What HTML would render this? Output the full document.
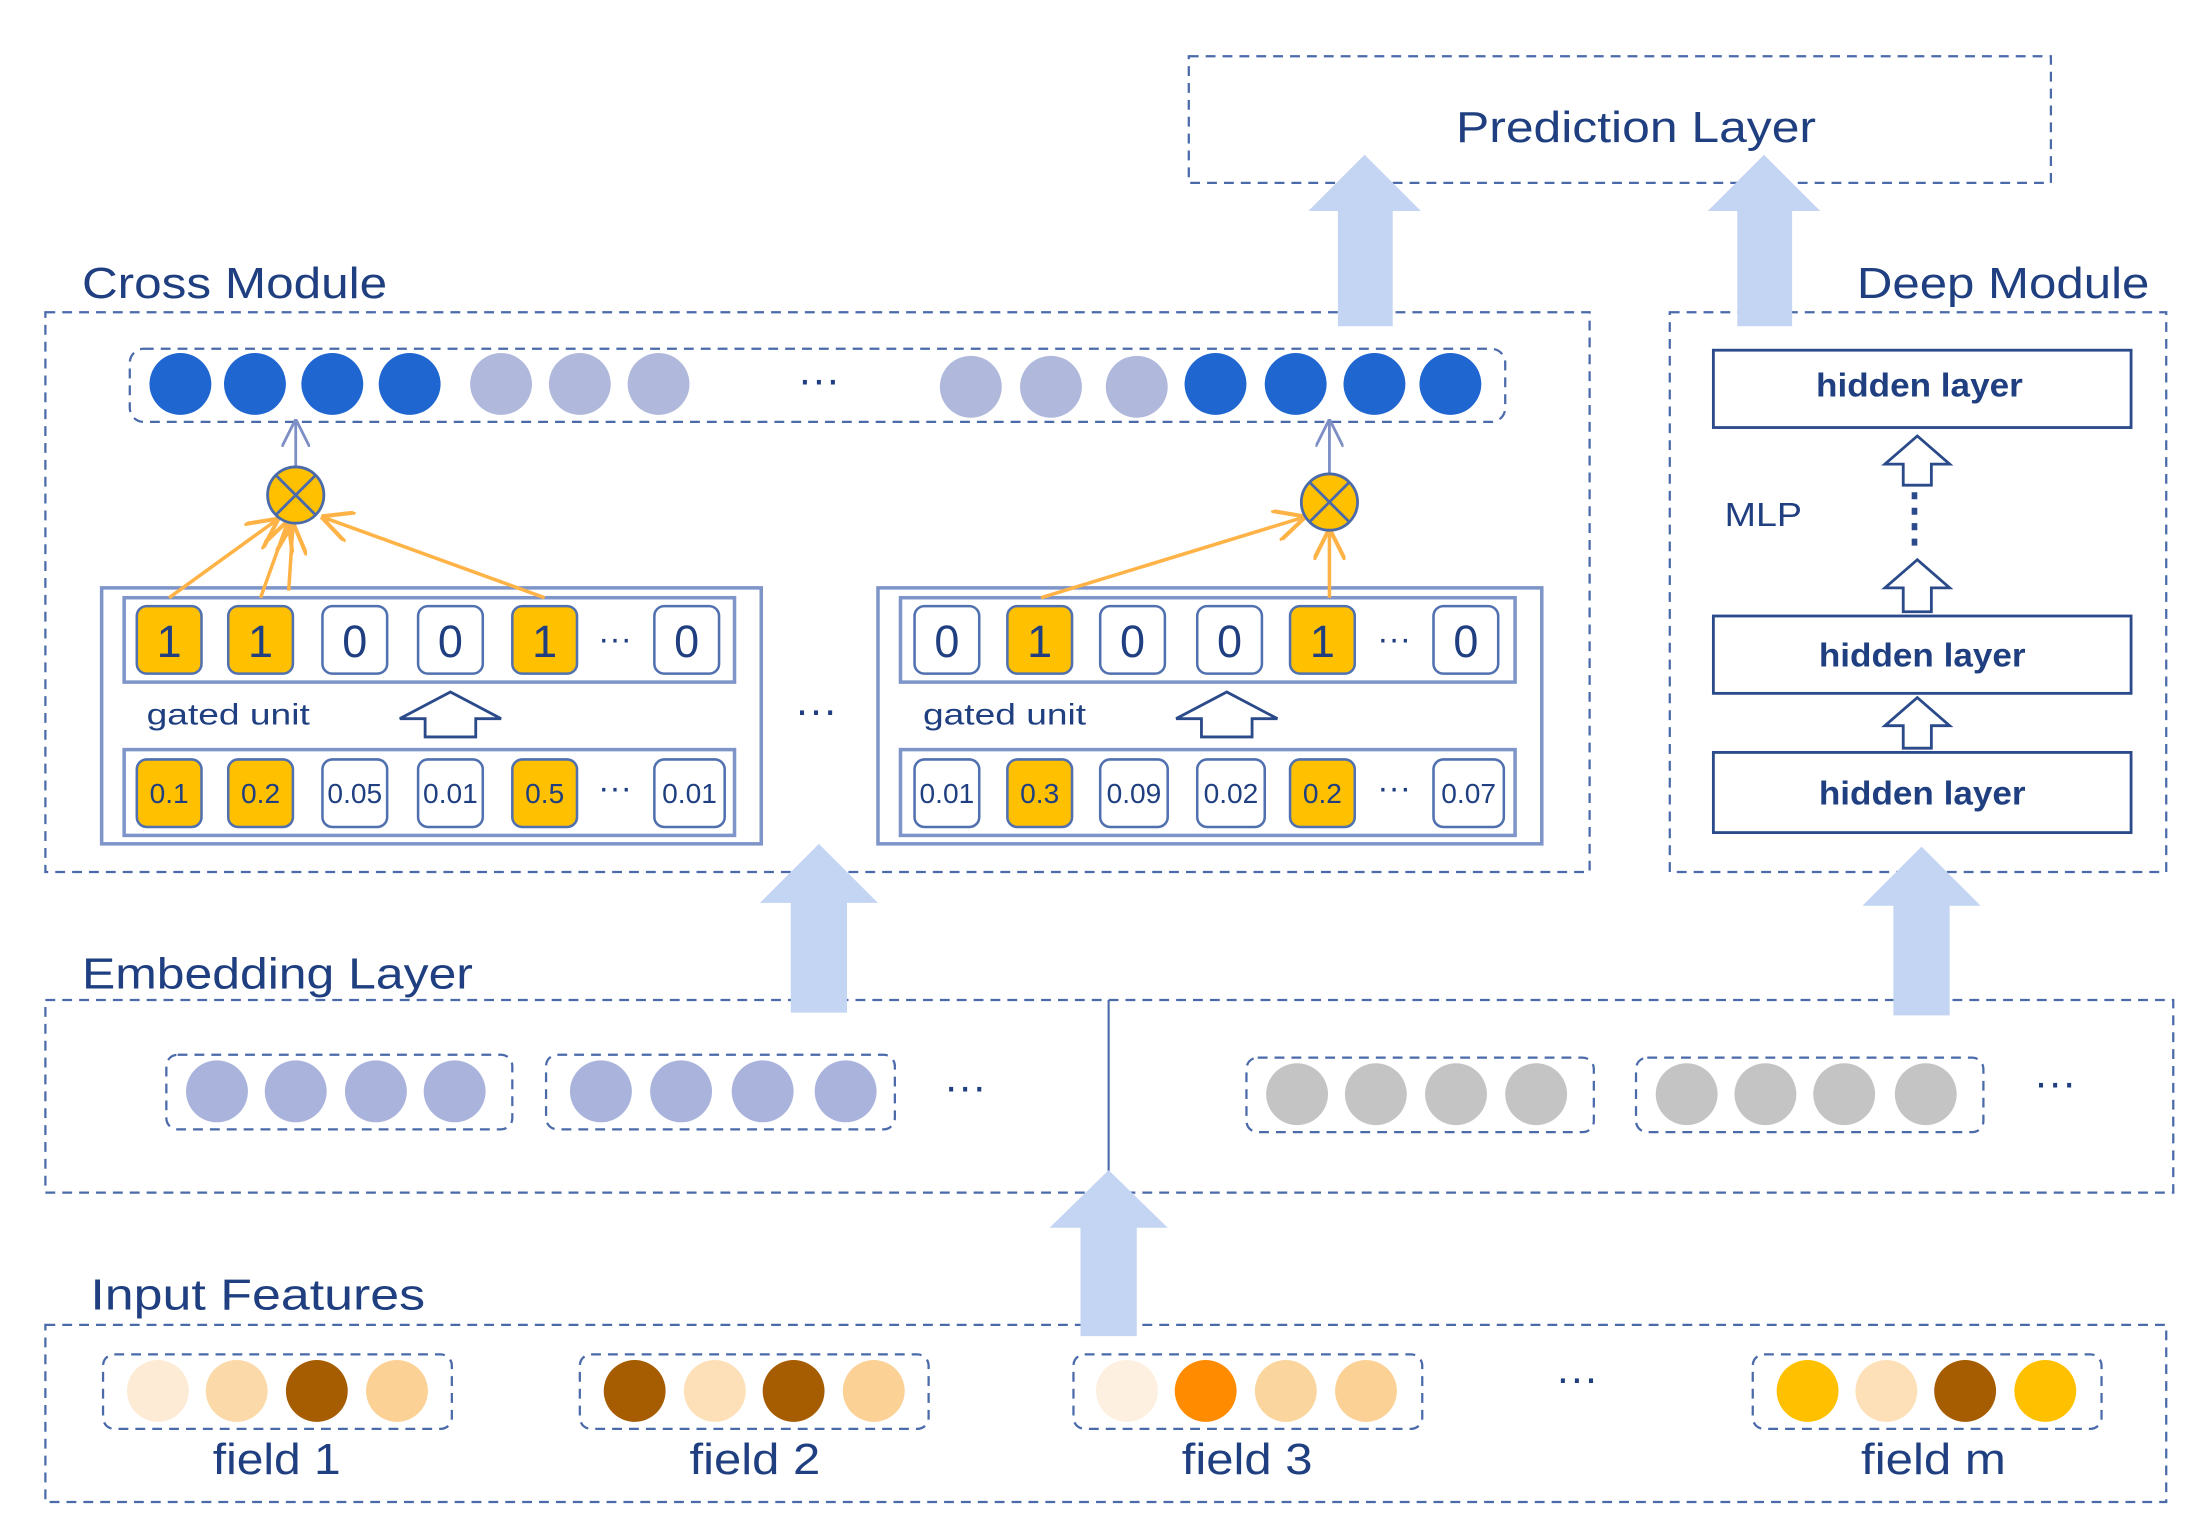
<!DOCTYPE html>
<html><head><meta charset="utf-8"><style>html,body{margin:0;padding:0;background:#fff}svg{display:block}</style></head><body>
<svg width="2206" height="1540" viewBox="0 0 1568 1095" xmlns="http://www.w3.org/2000/svg" font-family="Liberation Sans, sans-serif">
<defs>
<marker id="oa" viewBox="0 0 10 10" refX="9" refY="5" markerWidth="9" markerHeight="9" orient="auto"><path d="M0,0 L10,5 L0,10" fill="none" stroke="#ffb347" stroke-width="1.3"/></marker>
<marker id="ba" viewBox="0 0 10 10" refX="9" refY="5" markerWidth="10" markerHeight="10" orient="auto"><path d="M0,0 L10,5 L0,10" fill="none" stroke="#7d8fc4" stroke-width="1"/></marker>
</defs>
<g fill="none" stroke="#4a6aaa" stroke-width="1.6" stroke-dasharray="7,5">
<rect x="845" y="40" width="613" height="90"/>
<rect x="32" y="222" width="1098" height="398"/>
<rect x="1187" y="222" width="353" height="398"/>
<rect x="92" y="248" width="978" height="52" rx="10"/>
<rect x="32" y="711" width="1513" height="137"/>
<rect x="32" y="942" width="1508" height="126"/>
<rect x="118" y="750" width="246" height="53" rx="8"/>
<rect x="388" y="750" width="248" height="53" rx="8"/>
<rect x="886" y="752" width="247" height="53" rx="8"/>
<rect x="1163" y="752" width="247" height="53" rx="8"/>
<rect x="73" y="963" width="248" height="53" rx="8"/>
<rect x="412" y="963" width="248" height="53" rx="8"/>
<rect x="763" y="963" width="248" height="53" rx="8"/>
<rect x="1246" y="963" width="248" height="53" rx="8"/>
</g>
<line x1="788" y1="711" x2="788" y2="848" stroke="#4a6aaa" stroke-width="1.5"/>
<g fill="#1f3f80" font-size="31">
<text x="1035" y="101" textLength="256" lengthAdjust="spacingAndGlyphs">Prediction Layer</text>
<text x="58" y="212" textLength="217" lengthAdjust="spacingAndGlyphs">Cross Module</text>
<text x="1320" y="212" textLength="208" lengthAdjust="spacingAndGlyphs">Deep Module</text>
<text x="58" y="703" textLength="278" lengthAdjust="spacingAndGlyphs">Embedding Layer</text>
<text x="64" y="931" textLength="238" lengthAdjust="spacingAndGlyphs">Input  Features</text>
<text x="151" y="1048" textLength="91" lengthAdjust="spacingAndGlyphs">field 1</text>
<text x="490" y="1048" textLength="93" lengthAdjust="spacingAndGlyphs">field 2</text>
<text x="840" y="1048" textLength="93" lengthAdjust="spacingAndGlyphs">field 3</text>
<text x="1323" y="1048" textLength="103" lengthAdjust="spacingAndGlyphs">field m</text>
</g>
<g fill="#1f3f80" font-size="30" text-anchor="middle">
<text x="582" y="280">···</text><text x="580" y="515">···</text><text x="686" y="783">···</text><text x="1461" y="780">···</text><text x="1121" y="990">···</text>
</g>
<g fill="#1f66d1"><circle cx="128" cy="273" r="22"/><circle cx="181" cy="273" r="22"/><circle cx="236" cy="273" r="22"/><circle cx="291" cy="273" r="22"/><circle cx="864" cy="273" r="22"/><circle cx="921" cy="273" r="22"/><circle cx="977" cy="273" r="22"/><circle cx="1031" cy="273" r="22"/></g>
<g fill="#b0b8dc"><circle cx="356" cy="273" r="22"/><circle cx="412" cy="273" r="22"/><circle cx="468" cy="273" r="22"/><circle cx="690" cy="275" r="22"/><circle cx="747" cy="275" r="22"/><circle cx="808" cy="275" r="22"/></g>
<g fill="#aab3dc"><circle cx="154" cy="776" r="22"/><circle cx="210" cy="776" r="22"/><circle cx="267" cy="776" r="22"/><circle cx="323" cy="776" r="22"/><circle cx="427" cy="776" r="22"/><circle cx="484" cy="776" r="22"/><circle cx="542" cy="776" r="22"/><circle cx="601" cy="776" r="22"/></g>
<g fill="#c4c4c4"><circle cx="922" cy="778" r="22"/><circle cx="978" cy="778" r="22"/><circle cx="1035" cy="778" r="22"/><circle cx="1092" cy="778" r="22"/><circle cx="1199" cy="778" r="22"/><circle cx="1255" cy="778" r="22"/><circle cx="1311" cy="778" r="22"/><circle cx="1369" cy="778" r="22"/></g>
<g>
<circle cx="112" cy="989" r="22" fill="#fdebd6"/><circle cx="168" cy="989" r="22" fill="#fbd9a8"/><circle cx="225" cy="989" r="22" fill="#a65c00"/><circle cx="282" cy="989" r="22" fill="#fcd196"/>
<circle cx="451" cy="989" r="22" fill="#a65c00"/><circle cx="508" cy="989" r="22" fill="#fde0b8"/><circle cx="564" cy="989" r="22" fill="#a65c00"/><circle cx="621" cy="989" r="22" fill="#fcd196"/>
<circle cx="801" cy="989" r="22" fill="#fdf0e0"/><circle cx="857" cy="989" r="22" fill="#ff8c00"/><circle cx="914" cy="989" r="22" fill="#fbd59e"/><circle cx="971" cy="989" r="22" fill="#fcd196"/>
<circle cx="1285" cy="989" r="22" fill="#ffc000"/><circle cx="1341" cy="989" r="22" fill="#fde0b8"/><circle cx="1397" cy="989" r="22" fill="#a65c00"/><circle cx="1454" cy="989" r="22" fill="#ffc000"/>
</g>
<g fill="#c3d5f2">
<path d="M951,232 V150 H930 L970,110 L1010,150 H990 V232 Z"/>
<path d="M1235,232 V150 H1214 L1254,110 L1294,150 H1274 V232 Z"/>
<path d="M562,720 V642 H540 L582,600 L624,642 H602 V720 Z"/>
<path d="M1346,722 V644 H1324 L1366,602 L1408,644 H1386 V722 Z"/>
<path d="M768,950 V873 H746 L788,832 L830,873 H808 V950 Z"/>
</g>
<g fill="none" stroke="#7d95c8" stroke-width="2.5">
<rect x="72" y="418" width="469" height="182"/><rect x="88" y="425" width="434" height="60"/><rect x="88" y="533" width="434" height="61"/>
<rect x="624" y="418" width="472" height="182"/><rect x="640" y="425" width="437" height="60"/><rect x="640" y="533" width="437" height="61"/>
</g>
<g font-size="21" fill="#1f3f80"><text x="104" y="515" textLength="116" lengthAdjust="spacingAndGlyphs">gated unit</text><text x="656" y="515" textLength="116" lengthAdjust="spacingAndGlyphs">gated unit</text></g>
<g fill="none" stroke="#2a4a8a" stroke-width="2"><path d="M284,511 L320,492 L356,511 H338 V524 H302 V511 Z"/><path d="M836,511 L872,492 L908,511 H890 V524 H854 V511 Z"/></g>
<g stroke="#5070b0" stroke-width="1.8">
<rect x="97" y="431" width="46" height="48" rx="7" fill="#ffc000"/><rect x="162" y="431" width="46" height="48" rx="7" fill="#ffc000"/><rect x="229" y="431" width="46" height="48" rx="7" fill="#fff"/><rect x="297" y="431" width="46" height="48" rx="7" fill="#fff"/><rect x="364" y="431" width="46" height="48" rx="7" fill="#ffc000"/><rect x="465" y="431" width="46" height="48" rx="7" fill="#fff"/>
<rect x="650" y="431" width="46" height="48" rx="7" fill="#fff"/><rect x="716" y="431" width="46" height="48" rx="7" fill="#ffc000"/><rect x="782" y="431" width="46" height="48" rx="7" fill="#fff"/><rect x="851" y="431" width="46" height="48" rx="7" fill="#fff"/><rect x="917" y="431" width="46" height="48" rx="7" fill="#ffc000"/><rect x="1019" y="431" width="46" height="48" rx="7" fill="#fff"/>
<rect x="97" y="540" width="46" height="48" rx="7" fill="#ffc000"/><rect x="162" y="540" width="46" height="48" rx="7" fill="#ffc000"/><rect x="229" y="540" width="46" height="48" rx="7" fill="#fff"/><rect x="297" y="540" width="46" height="48" rx="7" fill="#fff"/><rect x="364" y="540" width="46" height="48" rx="7" fill="#ffc000"/><rect x="465" y="540" width="50" height="48" rx="7" fill="#fff"/>
<rect x="650" y="540" width="46" height="48" rx="7" fill="#fff"/><rect x="716" y="540" width="46" height="48" rx="7" fill="#ffc000"/><rect x="782" y="540" width="48" height="48" rx="7" fill="#fff"/><rect x="851" y="540" width="48" height="48" rx="7" fill="#fff"/><rect x="917" y="540" width="46" height="48" rx="7" fill="#ffc000"/><rect x="1019" y="540" width="50" height="48" rx="7" fill="#fff"/>
</g>
<g font-size="32" fill="#1f3f80" text-anchor="middle">
<text x="120" y="467">1</text><text x="185" y="467">1</text><text x="252" y="467">0</text><text x="320" y="467">0</text><text x="387" y="467">1</text><text x="437" y="462" font-size="24">···</text><text x="488" y="467">0</text>
<text x="673" y="467">0</text><text x="739" y="467">1</text><text x="805" y="467">0</text><text x="874" y="467">0</text><text x="940" y="467">1</text><text x="991" y="462" font-size="24">···</text><text x="1042" y="467">0</text>
</g>
<g font-size="20" fill="#1f3f80" text-anchor="middle">
<text x="120" y="571">0.1</text><text x="185" y="571">0.2</text><text x="252" y="571">0.05</text><text x="320" y="571">0.01</text><text x="387" y="571">0.5</text><text x="437" y="568" font-size="24">···</text><text x="490" y="571">0.01</text>
<text x="673" y="571">0.01</text><text x="739" y="571">0.3</text><text x="806" y="571">0.09</text><text x="875" y="571">0.02</text><text x="940" y="571">0.2</text><text x="991" y="568" font-size="24">···</text><text x="1044" y="571">0.07</text>
</g>
<g stroke="#ffb347" stroke-width="2.5" fill="none" marker-end="url(#oa)">
<line x1="120" y1="425" x2="196" y2="370"/><line x1="185" y1="425" x2="204" y2="372"/><line x1="205" y1="420" x2="208" y2="374"/><line x1="387" y1="425" x2="230" y2="368"/>
<line x1="740" y1="425" x2="926" y2="368"/><line x1="945" y1="425" x2="945" y2="378"/>
</g>
<g stroke="#7d8fc4" stroke-width="2" marker-end="url(#ba)"><line x1="210" y1="332" x2="210" y2="300"/><line x1="945" y1="337" x2="945" y2="300"/></g>
<g stroke="#4a6aaa" stroke-width="2"><circle cx="210" cy="352" r="20" fill="#ffc000"/><path d="M196,338 L224,366 M224,338 L196,366"/><circle cx="945" cy="357" r="20" fill="#ffc000"/><path d="M931,343 L959,371 M959,343 L931,371"/></g>
<g fill="#fff" stroke="#2a4a8a" stroke-width="2">
<rect x="1218" y="249" width="297" height="55"/><rect x="1218" y="438" width="297" height="55"/><rect x="1218" y="535" width="297" height="57"/>
<path d="M1340,330 L1363,310 L1386,330 H1373 V345 H1353 V330 Z"/>
<path d="M1340,418 L1363,398 L1386,418 H1373 V435 H1353 V418 Z"/>
<path d="M1340,516 L1363,496 L1386,516 H1373 V532 H1353 V516 Z"/>
</g>
<line x1="1361" y1="350" x2="1361" y2="392" stroke="#2a4a8a" stroke-width="4" stroke-dasharray="5,6"/>
<g font-size="24" fill="#1f3f80" font-weight="bold"><text x="1291" y="282" textLength="147" lengthAdjust="spacingAndGlyphs">hidden layer</text><text x="1293" y="474" textLength="147" lengthAdjust="spacingAndGlyphs">hidden layer</text><text x="1293" y="572" textLength="147" lengthAdjust="spacingAndGlyphs">hidden layer</text></g>
<text x="1226" y="374" font-size="24" fill="#1f3f80" textLength="55" lengthAdjust="spacingAndGlyphs">MLP</text>
</svg>
</body></html>
